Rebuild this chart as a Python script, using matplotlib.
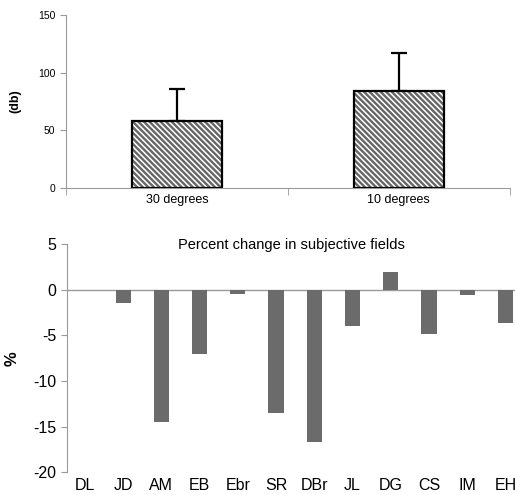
import matplotlib
matplotlib.use('Agg')
import matplotlib.pyplot as plt

plt.rcParams['font.family'] = ['Liberation Sans', 'DejaVu Sans']
plt.rcParams['hatch.linewidth'] = 1.7
plt.rcParams['axes.unicode_minus'] = False

# Top chart: mean threshold by field size
field_names = ['30 degrees', '10 degrees']
field_means = [58, 84]
field_errors = [28, 33]

# Bottom chart: percent change per subject
subjects = ['DL', 'JD', 'AM', 'EB', 'Ebr', 'SR', 'DBr', 'JL', 'DG', 'CS', 'IM', 'EH']
pct_change = [0, -1.5, -14.5, -7.0, -0.5, -13.5, -16.7, -4.0, 1.9, -4.9, -0.6, -3.6]

fig = plt.figure(figsize=(5.15, 4.95), dpi=100)
grey = '#9a9a9a'

# ---- top panel
ax1 = fig.add_axes([0.128, 0.620, 0.862, 0.350])
xs = range(len(field_names))
ax1.bar(xs, field_means, width=0.405, color='white', edgecolor='#666666',
        hatch='\\\\\\\\\\\\', linewidth=0, zorder=2)
ax1.bar(xs, field_means, width=0.405, fill=False, edgecolor='black',
        linewidth=1.6, zorder=3)
ax1.errorbar(xs, field_means, yerr=[[0, 0], field_errors], fmt='none',
             ecolor='black', elinewidth=1.6, capsize=6, capthick=1.6, zorder=1)
ax1.set_xlim(-0.5, 1.5)
ax1.set_ylim(0, 150)
ax1.set_yticks([0, 50, 100, 150])
ax1.set_xticks(list(xs))
ax1.set_xticklabels(field_names, fontsize=9)
ax1.set_xticks([-0.5, 0.5, 1.5], minor=True)
ax1.tick_params(axis='x', which='major', length=0, pad=4)
ax1.tick_params(axis='x', which='minor', length=5, color=grey, direction='out')
ax1.tick_params(axis='y', labelsize=7.5, length=4, color=grey)
for s in ['top', 'right']:
    ax1.spines[s].set_visible(False)
ax1.spines['left'].set_color(grey)
ax1.spines['bottom'].set_color(grey)
ax1.set_ylabel('(db)', fontsize=9, fontweight='bold', labelpad=12)

# ---- bottom panel
ax2 = fig.add_axes([0.130, 0.046, 0.870, 0.461])
ax2.bar(range(len(subjects)), pct_change, width=0.4, color='#6b6b6b', zorder=2)
ax2.axhline(0, color=grey, linewidth=1, zorder=1)
ax2.set_xlim(-0.47, 11.25)
ax2.set_ylim(-20, 5)
ax2.set_yticks([5, 0, -5, -10, -15, -20])
ax2.set_xticks(range(len(subjects)))
ax2.set_xticklabels(subjects, fontsize=11.5)
ax2.tick_params(axis='x', length=0, pad=4)
ax2.tick_params(axis='y', labelsize=11.5, length=4, color=grey)
for s in ['top', 'right', 'bottom']:
    ax2.spines[s].set_visible(False)
ax2.spines['left'].set_color(grey)
ax2.set_ylabel('%', fontsize=12, fontweight='bold', labelpad=10)
ax2.set_title('Percent change in subjective fields', fontsize=10.5, y=0.94)

fig.savefig('out.png', dpi=100)
